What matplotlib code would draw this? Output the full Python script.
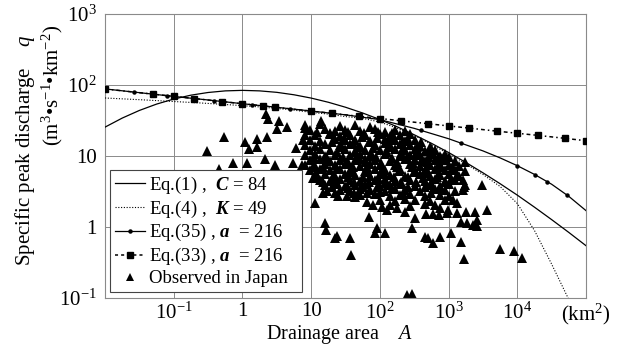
import numpy as np
import matplotlib
matplotlib.use("Agg")
import matplotlib.pyplot as plt
from matplotlib.lines import Line2D

plt.rcParams['font.family'] = ['Liberation Serif', 'DejaVu Serif']
plt.rcParams['mathtext.fontset'] = 'custom'
plt.rcParams['mathtext.rm'] = 'Liberation Serif'
plt.rcParams['mathtext.it'] = 'Liberation Serif:italic'
plt.rcParams['mathtext.bf'] = 'Liberation Serif:italic:bold'

# Eq.(1) C=84 and Eq.(4) K=49, quarter decade steps of drainage area
area_q = [0.01, 0.0178, 0.0316, 0.0562, 0.1, 0.178, 0.316, 0.562, 1, 1.78, 3.16, 5.62,
          10, 17.8, 31.6, 56.2, 100, 178, 316, 562, 1000, 1780, 3160, 5620,
          1e4, 17800, 31600, 56200, 1e5]
eq1_q = [25.5, 34.2, 43.8, 53.8, 63.4, 71.9, 78.4, 82.6, 84.0, 82.6, 78.8, 72.8,
         65.4, 57.1, 48.6, 40.3, 32.6, 25.8, 19.9, 15.1, 11.2, 8.12, 5.80, 4.07,
         2.81, 1.90, 1.27, 0.838, 0.545]
eq4_q = [65.6, 63.8, 62.1, 60.3, 58.5, 56.8, 55.0, 53.1, 51.2, 49.1, 46.8, 44.2,
         41.2, 38.9, 35.9, 33.9, 30.1, 24.7, 19.5, 14.5, 10.7, 7.76, 5.50, 3.72,
         2.14, 0.89, 0.30, 0.095, 0.025]

# Eq.(35) a=216
eq35_area = [0.01, 0.0316, 0.1, 0.316, 1, 3.16, 10, 31.6, 100, 316, 1000, 3160,
             5620, 1e4, 17800, 31600, 56200, 1e5]
eq35_q = [88, 78, 69, 61.5, 54.5, 48.5, 43, 38, 32.5, 24.5, 17.5, 11.8,
          9.4, 7.3, 5.5, 4.0, 2.7, 1.7]
eq35_dot_area = [0.026, 0.08, 0.38, 1.4, 5, 400, 1500, 1e4, 1.8e4, 2.7e4, 5.2e4]
eq35_dot_q = [80, 70.6, 60.4, 52.6, 46.2, 22.9, 15.2, 7.3, 5.45, 4.36, 2.85]

# Eq.(33) a=216
eq33_area = [0.01, 0.05, 0.1, 0.2, 0.5, 1, 2, 3, 10, 20, 50, 100, 200, 500,
             1000, 2000, 5000, 1e4, 2e4, 5e4, 1e5]
eq33_q = [87.9, 74.3, 69.2, 64.4, 58.5, 54.4, 50.7, 48.6, 42.9, 39.9, 36.2, 33.7,
          31.4, 28.5, 26.5, 24.7, 22.4, 20.9, 19.5, 17.7, 16.4]

# observed in Japan
obs_area = [
    2.23, 2.38, 3.4, 3.2, 4.5, 0.53, 1.1, 1.65, 2.3, 1.26, 1.65, 0.30, 6.1, 0.72,
    1.18, 2.15, 3.0, 5.5, 0.46, 7.7, 8.2, 7.4,
    10.7, 11.4, 16, 16.5, 22.3, 23.8, 36.7, 38, 69, 90, 85, 118, 126, 321, 291,
    449, 497, 587, 741, 1070, 1540, 1700, 246, 291, 3110, 3670, 5680, 9060, 11800,
    2460, 2550, 2230, 2630, 1880, 1540, 464, 587, 716, 935, 1310, 1820,
    14.9, 17, 22.3, 24.6, 33, 43, 48, 65, 79, 107, 176, 230, 741, 968, 1140, 1310,
    1600, 1600, 1310, 1700,
    13.9,
    8.2, 13.5, 26, 43, 72,
    9.7, 16, 22, 31, 51, 85, 118, 165, 230,
    8.2, 11.4, 19, 26, 37, 61, 100, 140, 195, 272,
    9.7, 13.5, 22, 31, 43, 72, 118, 165, 230, 321,
    8.2, 11.4, 16, 26, 37, 51, 85, 140, 195, 272, 380, 531,
    9.7, 13.5, 18.8, 31, 43, 61, 100, 165, 230, 321, 449, 627,
    8.2, 11.4, 16, 22, 37, 51, 72, 118, 195, 272, 380, 531, 741, 875, 1030,
    9.7, 13.5, 18.8, 26, 43, 61, 85, 140, 230, 321, 449, 627, 875, 1220, 1710,
    8.2, 11.4, 16, 22, 31, 51, 72, 100, 165, 272, 380, 531, 741, 1030, 1440,
    9.7, 13.5, 18.8, 26, 37, 61, 85, 118, 195, 321, 449, 627, 875, 1220, 1710,
    11.4, 16, 22, 31, 43, 72, 100, 140, 230, 380, 531, 741, 1030, 1440,
    13.5, 18.8, 26, 37, 51, 85, 118, 165, 272, 449, 627, 875, 1220,
    16, 22, 31, 43, 61, 100, 140, 195, 321, 531, 741, 1030, 1710,
    26, 37, 51, 72, 118, 165, 230, 380, 627, 875, 1220,
    51, 85, 140, 195, 272, 449, 741, 1030,
    100, 165, 230, 321, 531, 875,
    140, 272, 449, 627,
    # dense core
    30, 55, 92, 150, 260, 400, 20, 40, 70, 120, 210, 350, 560,
    28, 48, 80, 130, 220, 360, 600, 24, 44, 75, 125, 205, 330, 520, 800,
    34, 60, 105, 180, 300, 480, 720, 40, 68, 115, 190, 310, 500,
    12, 19, 34, 58, 95, 150,
    11, 17, 29, 50, 88, 150, 250, 410, 690,
    10.5, 15, 24, 40, 66, 110, 180, 290, 470, 760, 1150,
    12.5, 20, 34, 56, 95, 160, 260, 420, 680, 1100,
    15, 24, 42, 70, 120, 200, 340, 560, 900,
    20, 34, 56, 90, 150, 260, 450, 760,
    42, 66, 100, 220, 560]
obs_q = [
    39, 33, 31, 24, 25.6, 18.5, 15.7, 17.3, 18.5, 12.6, 13.4, 11.8, 13, 8.0,
    8.0, 9.1, 7.5, 8.0, 6.6, 16.8, 24.8, 7.5,
    4.9, 2.18, 1.14, 0.91, 0.70, 0.75, 0.70, 0.40, 1.38, 0.97, 0.82, 0.82, 1.73, 1.34, 0.97,
    0.72, 0.70, 0.60, 0.72, 0.82, 0.62, 0.35, 0.11, 0.114, 3.9, 1.73, 0.49, 0.46, 0.37,
    1.63, 1.26, 1.07, 1.03, 1.14, 1.17, 1.52, 1.52, 1.48, 1.57, 1.57, 1.63,
    3.0, 3.2, 3.0, 2.7, 2.7, 2.65, 2.8, 2.25, 2.04, 1.91, 1.85, 1.63, 1.85, 1.73, 2.4, 2.18,
    3.3, 4.6, 5.4, 3.6,
    31.5,
    27, 28, 26.5, 27.5, 26,
    23, 24, 22.5, 23.5, 22.8, 23.8, 22, 23, 22.5,
    20, 19.5, 20.5, 19.2, 20, 19.5, 20.3, 19, 19.8, 20.2,
    17, 16.5, 17.3, 16.6, 17, 16.4, 17.2, 16.8, 16.3, 17,
    14.5, 14, 14.6, 14.2, 14.8, 14, 14.4, 14.1, 14.7, 14.2, 13.8, 13.5,
    12.2, 12.5, 12, 12.4, 11.9, 12.3, 12, 12.5, 12.1, 12.4, 11.8, 12.1,
    10.3, 10.6, 10, 10.4, 10.2, 10.7, 10.1, 10.5, 10, 10.4, 10.2, 10.5, 10, 10.8, 9.6,
    8.8, 9, 8.6, 8.9, 8.7, 9.1, 8.8, 8.6, 9, 8.8, 8.5, 8.9, 8.7, 8.6, 8.2,
    7.5, 7.3, 7.7, 7.4, 7.6, 7.3, 7.7, 7.5, 7.4, 7.6, 7.3, 7.5, 7.7, 7.4, 7.2,
    6.4, 6.6, 6.3, 6.5, 6.4, 6.2, 6.5, 6.3, 6.6, 6.4, 6.2, 6.5, 6.3, 6.4, 6.1,
    5.4, 5.5, 5.3, 5.6, 5.4, 5.3, 5.5, 5.4, 5.2, 5.5, 5.3, 5.4, 5.6, 5.3,
    4.6, 4.5, 4.7, 4.6, 4.4, 4.6, 4.7, 4.5, 4.6, 4.4, 4.7, 4.5, 4.6,
    3.9, 4.0, 3.8, 3.9, 4.0, 3.8, 3.9, 4.0, 3.8, 3.9, 3.8, 4.0, 3.9,
    3.3, 3.2, 3.4, 3.3, 3.2, 3.4, 3.3, 3.2, 3.4, 3.3, 3.2,
    2.8, 2.9, 2.7, 2.8, 2.9, 2.7, 2.8, 2.75,
    2.4, 2.35, 2.45, 2.4, 2.35, 2.4,
    2.05, 2.0, 2.1, 2.05,
    18, 18.5, 17.8, 18.2, 17.5, 16, 15.5, 15.2, 15.8, 15, 15.4, 13.2, 12.8,
    13.2, 13.5, 13, 13.4, 12.9, 11.5, 11, 11.2, 11.4, 11, 11.3, 11.1, 10.9, 9.8, 9.5,
    8.1, 8.3, 8, 8.2, 7.9, 8.1, 7.8, 5.9, 6, 5.8, 6.1, 5.9, 5.7,
    21.5, 21, 21.8, 21.2, 21.6, 20.8,
    9.5, 9.3, 9.6, 9.4, 9.7, 9.3, 9.5, 9.2, 9.4,
    6.9, 7.0, 6.8, 6.9, 7.1, 6.8, 6.9, 7.0, 6.8, 6.9, 6.7,
    5.0, 4.9, 5.1, 5.0, 4.9, 5.1, 5.0, 4.9, 5.0, 4.8,
    4.25, 4.2, 4.3, 4.25, 4.2, 4.3, 4.25, 4.2, 4.3,
    3.6, 3.55, 3.65, 3.6, 3.55, 3.6, 3.65, 3.55,
    3.05, 3.0, 3.1, 3.05, 3.0]

xtick_vals = [0.1, 1, 10, 100, 1000, 1e4, 1e5]
xtick_labels = ['10$^{-1}$', '1', '10', '10$^{2}$', '10$^{3}$', '10$^{4}$', '(km$^{2}$)']
ytick_vals = [0.1, 1, 10, 100, 1000]
ytick_labels = ['10$^{-1}$', '1', '10', '10$^{2}$', '10$^{3}$']

fig = plt.figure(figsize=(6.2, 3.47), dpi=100)
ax = fig.add_axes([0.1694, 0.1412, 0.7758, 0.8185])
ax.set_xscale('log')
ax.set_yscale('log')
ax.set_xlim(0.01, 1e5)
ax.set_ylim(0.1, 1000)

ax.plot(obs_area, obs_q, '^', color='black', ms=6.6, mew=0, zorder=2)
ax.plot(area_q, eq1_q, '-', color='black', lw=0.9, zorder=3)
ax.plot(area_q, eq4_q, color='black', lw=0.8, ls=(0, (1, 1.5)), zorder=3)
ax.plot(eq35_area, eq35_q, '-', color='black', lw=0.9, zorder=3)
ax.plot(eq35_dot_area, eq35_dot_q, 'o', color='black', ms=2.2, zorder=3)
ax.plot(eq33_area, eq33_q, color='black', lw=1.1, ls=(0, (2.5, 2, 1, 2)),
        marker='s', ms=4, zorder=3)

ax.set_xticks(xtick_vals)
ax.set_xticklabels(xtick_labels)
ax.set_yticks(ytick_vals)
ax.set_yticklabels(ytick_labels)
ax.minorticks_off()
ax.tick_params(length=0, labelsize=15)
ax.tick_params(axis='x', pad=3)
ax.tick_params(axis='y', pad=6)
ax.grid(True, color='#8a8a8a', lw=0.7)
for s in ax.spines.values():
    s.set_color('#8a8a8a')
    s.set_linewidth(0.8)

handles = [
    Line2D([], [], color='black', lw=0.9),
    Line2D([], [], color='black', lw=0.8, ls=(0, (1, 1.5))),
    Line2D([], [], color='black', lw=0.9, marker='o', ms=2.2),
    Line2D([], [], color='black', lw=1.1, ls=(0, (2, 2)), marker='s', ms=4),
    Line2D([], [], color='black', ls='none', marker='^', ms=5.5, mew=0),
]
labels = ['Eq.(1) ,  $\\mathbf{C}$ = 84',
          'Eq.(4) ,  $\\mathbf{K}$ = 49',
          'Eq.(35) , $\\mathbf{a}$  = 216',
          'Eq.(33) , $\\mathbf{a}$  = 216',
          'Observed in Japan  ']
leg = ax.legend(handles, labels, loc='lower left', bbox_to_anchor=(0.0104, 0.021),
                borderaxespad=0, fontsize=13.5, handlelength=1.6, handletextpad=0.25,
                labelspacing=0.15, borderpad=0.25, numpoints=1, fancybox=False,
                framealpha=1, edgecolor='#444444')
leg.get_frame().set_linewidth(0.8)
leg.set_zorder(5)

fig.text(0.04, 0.565, 'Specific peak discharge    $q$', rotation=90,
         ha='center', va='center', fontsize=15)
fig.text(0.085, 0.755, '(m$^{3}$•s$^{-1}$•km$^{-2}$)', rotation=90,
         ha='center', va='center', fontsize=15)
fig.text(0.547, 0.024, 'Drainage area    $A$', ha='center', va='baseline', fontsize=14.5)

fig.savefig('out.png', dpi=100)
